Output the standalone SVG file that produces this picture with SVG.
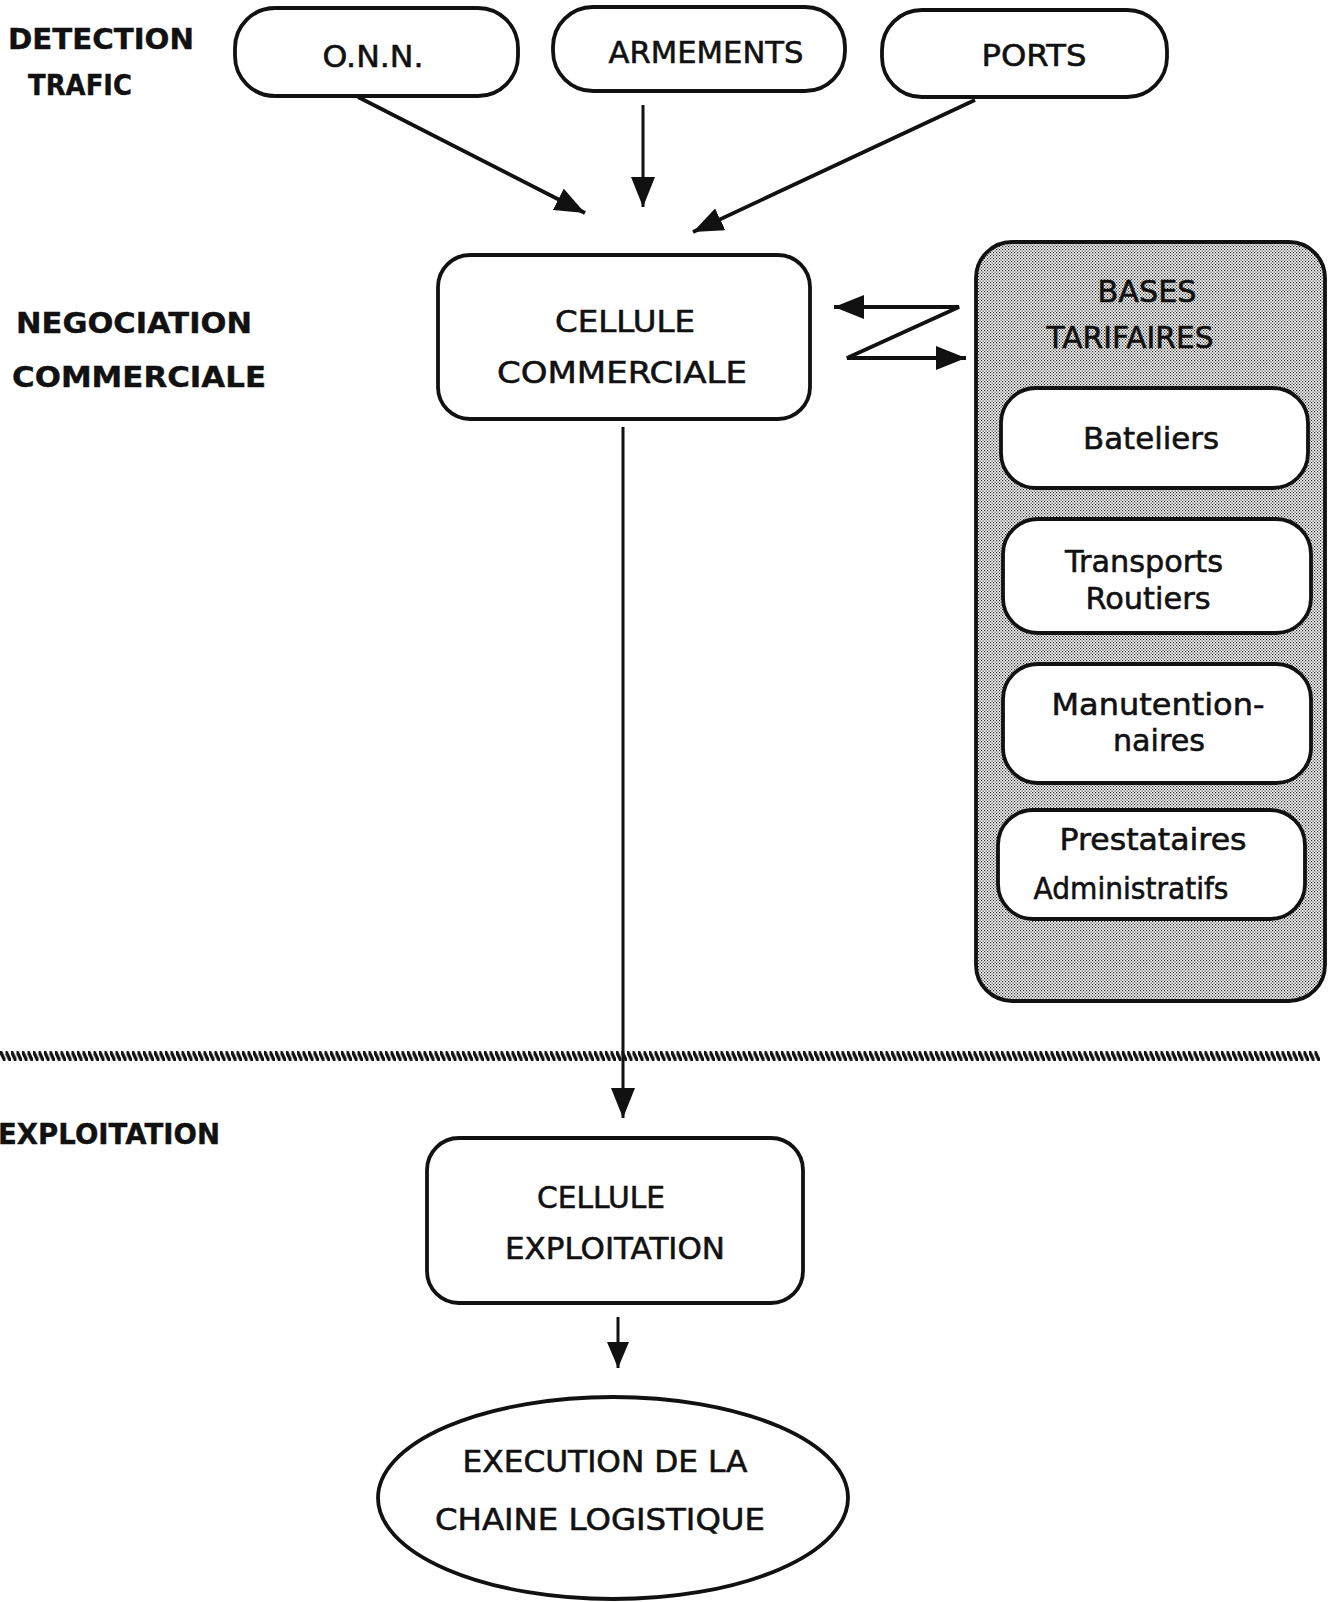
<svg xmlns="http://www.w3.org/2000/svg" width="1330" height="1602" viewBox="0 0 1330 1602">
  <defs>
    <style>
      .box { fill: #ffffff; stroke: #111111; stroke-width: 3.8; }
      .lbl { font-family: "DejaVu Sans", "Liberation Sans", sans-serif; font-size: 31px; fill: #111111; stroke: #111111; stroke-width: 0.6; text-anchor: middle; }
      .sec { font-family: "DejaVu Sans", "Liberation Sans", sans-serif; font-size: 29px; font-weight: bold; fill: #111111; stroke: #111111; stroke-width: 0.4; }
      .wire { fill: none; stroke: #111111; stroke-width: 3.8; }
      .thin { fill: none; stroke: #111111; stroke-width: 3; }
    </style>
    <!-- filled triangular arrowhead, tip at the path end -->
    <marker id="head" viewBox="0 0 30 24" refX="30" refY="12" markerWidth="30" markerHeight="24" markerUnits="userSpaceOnUse" orient="auto-start-reverse">
      <path d="M0 0 L30 12 L0 24 Z" fill="#111111"/>
    </marker>
    <marker id="headSmall" viewBox="0 0 26 22" refX="26" refY="11" markerWidth="26" markerHeight="22" markerUnits="userSpaceOnUse" orient="auto">
      <path d="M0 0 L26 11 L0 22 Z" fill="#111111"/>
    </marker>
    <!-- dithered grey screen of the tariff panel -->
    <pattern id="screen" width="3" height="3" patternUnits="userSpaceOnUse">
      <rect width="3" height="3" fill="#ffffff"/>
      <rect x="0" y="0" width="1.2" height="1.2" fill="#222222"/>
      <rect x="1.5" y="1.5" width="1.2" height="1.2" fill="#222222"/>
    </pattern>
    <!-- twisted-rope rule separating the phases -->
    <pattern id="rope" x="0" y="1051" width="5.5" height="10" patternUnits="userSpaceOnUse">
      <line x1="0.8" y1="1.2" x2="4.4" y2="8.8" stroke="#111111" stroke-width="3.4" stroke-linecap="round"/>
    </pattern>
  </defs>

  <rect width="1330" height="1602" fill="#ffffff"/>

  <!-- phase labels -->
  <g id="phase-labels">
    <text class="sec" x="8" y="49" textLength="186" lengthAdjust="spacingAndGlyphs">DETECTION</text>
    <text class="sec" x="28" y="95" textLength="104" lengthAdjust="spacingAndGlyphs">TRAFIC</text>
    <text class="sec" x="16" y="333" textLength="236" lengthAdjust="spacingAndGlyphs">NEGOCIATION</text>
    <text class="sec" x="12" y="387" textLength="254" lengthAdjust="spacingAndGlyphs">COMMERCIALE</text>
    <text class="sec" x="-2" y="1144" textLength="222" lengthAdjust="spacingAndGlyphs">EXPLOITATION</text>
  </g>

  <!-- separator -->
  <rect id="separator" x="0" y="1051" width="1320" height="10" fill="url(#rope)"/>

  <!-- sources -->
  <g id="onn">
    <rect class="box" x="235" y="8" width="283" height="88" rx="40"/>
    <text class="lbl" x="373" y="67" textLength="101" lengthAdjust="spacingAndGlyphs">O.N.N.</text>
  </g>
  <g id="armements">
    <rect class="box" x="553" y="7" width="292" height="84" rx="40"/>
    <text class="lbl" x="706" y="63" textLength="195" lengthAdjust="spacingAndGlyphs">ARMEMENTS</text>
  </g>
  <g id="ports">
    <rect class="box" x="882" y="10" width="285" height="87" rx="40"/>
    <text class="lbl" x="1034" y="66" textLength="105" lengthAdjust="spacingAndGlyphs">PORTS</text>
  </g>

  <!-- commercial cell -->
  <g id="cellule-commerciale">
    <rect class="box" x="438" y="255" width="372" height="164" rx="32"/>
    <text class="lbl" x="625" y="332" textLength="140" lengthAdjust="spacingAndGlyphs">CELLULE</text>
    <text class="lbl" x="622" y="383" textLength="250" lengthAdjust="spacingAndGlyphs">COMMERCIALE</text>
  </g>

  <!-- tariff bases panel -->
  <g id="bases-tarifaires">
    <rect x="976" y="242" width="349" height="759" rx="36" fill="url(#screen)" stroke="#111111" stroke-width="3.8"/>
    <text class="lbl" x="1147" y="302" textLength="99" lengthAdjust="spacingAndGlyphs">BASES</text>
    <text class="lbl" x="1130" y="348" textLength="167" lengthAdjust="spacingAndGlyphs">TARIFAIRES</text>
  </g>
  <g id="bateliers">
    <rect class="box" x="1001" y="388" width="307" height="100" rx="35"/>
    <text class="lbl" x="1151" y="449" textLength="136" lengthAdjust="spacingAndGlyphs">Bateliers</text>
  </g>
  <g id="transports-routiers">
    <rect class="box" x="1003" y="519" width="308" height="114" rx="35"/>
    <text class="lbl" x="1144" y="572" textLength="158" lengthAdjust="spacingAndGlyphs">Transports</text>
    <text class="lbl" x="1148" y="609" textLength="125" lengthAdjust="spacingAndGlyphs">Routiers</text>
  </g>
  <g id="manutentionnaires">
    <rect class="box" x="1003" y="664" width="308" height="119" rx="35"/>
    <text class="lbl" x="1158" y="715" textLength="213" lengthAdjust="spacingAndGlyphs">Manutention-</text>
    <text class="lbl" x="1159" y="751" textLength="92" lengthAdjust="spacingAndGlyphs">naires</text>
  </g>
  <g id="prestataires-administratifs">
    <rect class="box" x="998" y="810" width="307" height="109" rx="35"/>
    <text class="lbl" x="1153" y="850" textLength="187" lengthAdjust="spacingAndGlyphs">Prestataires</text>
    <text class="lbl" x="1131" y="899" textLength="195" lengthAdjust="spacingAndGlyphs">Administratifs</text>
  </g>

  <!-- operations cell -->
  <g id="cellule-exploitation">
    <rect class="box" x="427" y="1138" width="376" height="165" rx="32"/>
    <text class="lbl" x="601" y="1208" textLength="128" lengthAdjust="spacingAndGlyphs">CELLULE</text>
    <text class="lbl" x="615" y="1259" textLength="220" lengthAdjust="spacingAndGlyphs">EXPLOITATION</text>
  </g>

  <!-- logistics chain -->
  <g id="execution">
    <ellipse class="box" cx="613" cy="1498" rx="235" ry="101"/>
    <text class="lbl" x="605" y="1472" textLength="285" lengthAdjust="spacingAndGlyphs">EXECUTION DE LA</text>
    <text class="lbl" x="600" y="1530" textLength="330" lengthAdjust="spacingAndGlyphs">CHAINE  LOGISTIQUE</text>
  </g>

  <!-- connectors -->
  <g id="connectors">
    <line class="wire" x1="358" y1="97" x2="585" y2="213" marker-end="url(#head)"/>
    <line class="thin" x1="643" y1="105" x2="643" y2="207" marker-end="url(#head)"/>
    <line class="wire" x1="975" y1="100" x2="693" y2="232" marker-end="url(#head)"/>
    <path class="wire" d="M834 307 L959 307 L847 358 L966 358" marker-start="url(#head)" marker-end="url(#head)"/>
    <line class="thin" x1="623" y1="427" x2="623" y2="1118" marker-end="url(#head)"/>
    <line class="thin" x1="618" y1="1317" x2="618" y2="1368" marker-end="url(#headSmall)"/>
  </g>
</svg>
